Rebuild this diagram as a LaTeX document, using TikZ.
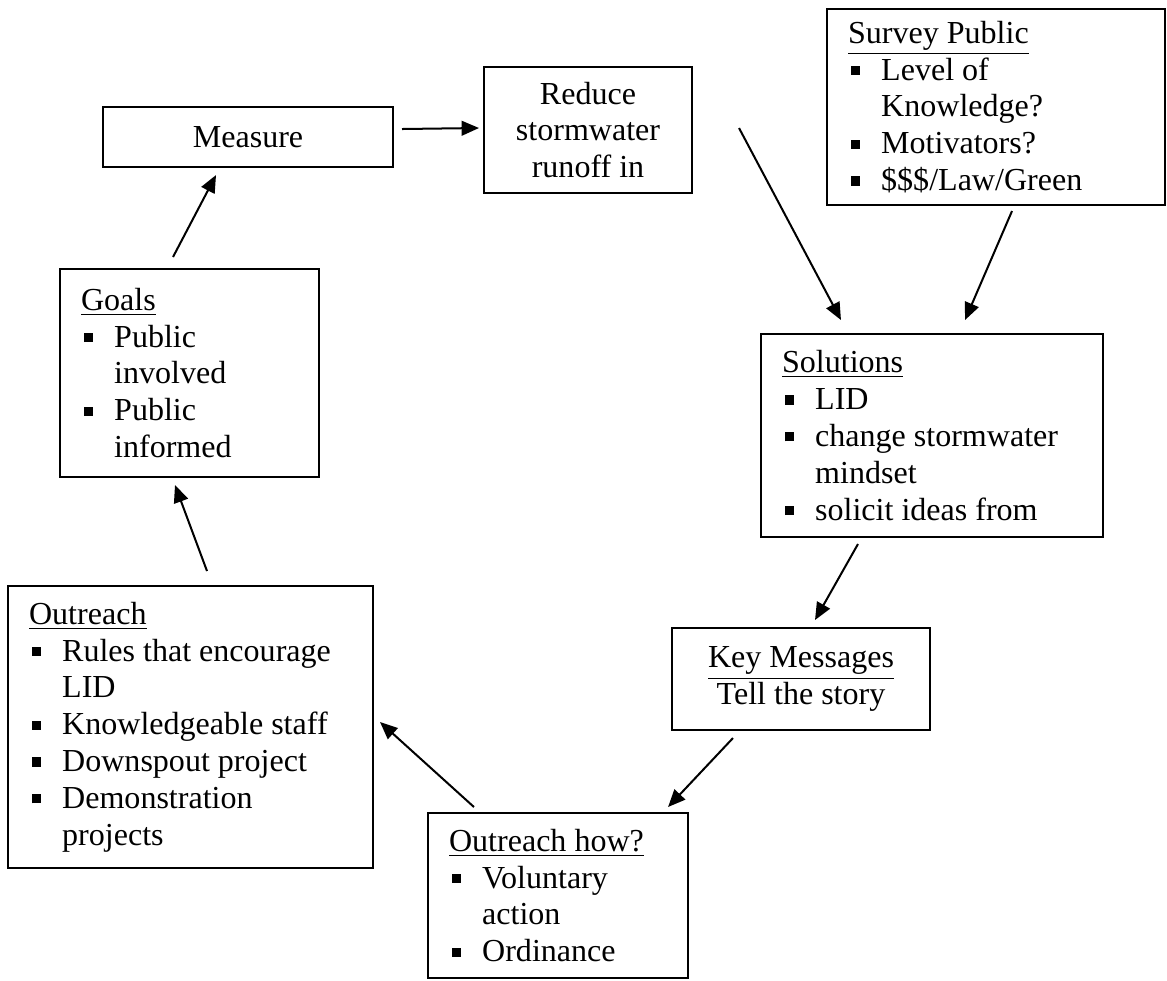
\documentclass[tikz,border=0pt]{standalone}
\usepackage{fontspec}
\setmainfont{Liberation Serif}
\usetikzlibrary{arrows.meta}

\newcommand{\sqbul}{\makebox[12.4pt][l]{\hspace{1.2pt}\rule[1.9pt]{3.4pt}{3.4pt}}}
\newcommand{\hang}{\hspace*{12.4pt}}

\begin{document}
\begin{tikzpicture}[
  x=0.3745pt, y=-0.3745pt,
  font=\fontsize{12}{13.8}\selectfont,
  box/.style={draw, line width=0.75pt, inner xsep=7.9pt, inner ysep=0pt},
  list/.style={box, align=flush left},
  arrow/.style={-{Triangle[length=6.5pt,width=5.5pt]}, line width=0.75pt}
]
\useasboundingbox (0,0) rectangle (1167,980);

\node[box, align=center, minimum width=108.6pt, minimum height=22.5pt] (measure) at (248,137) {Measure};
\node[box, align=center, minimum width=77.9pt, minimum height=47.2pt] (reduce) at (588,130) {Reduce\\stormwater\\runoff in};
\node[list, text width=110.8pt, minimum height=73.4pt] (survey) at (996,107)
  {\underline{Survey Public}\\ \sqbul Level of\\ \hang Knowledge?\\ \sqbul Motivators?\\ \sqbul \$\$\$/Law/Green};
\node[list, text width=81.2pt, minimum height=77.9pt] (goals) at (189.5,373)
  {\underline{Goals}\\ \sqbul Public\\ \hang involved\\ \sqbul Public\\ \hang informed};
\node[list, text width=112.3pt, minimum height=76pt] (solutions) at (932,435.5)
  {\underline{Solutions}\\ \sqbul LID\\ \sqbul change stormwater\\ \hang mindset\\ \sqbul solicit ideas from};
\node[box, align=center, minimum width=96.6pt, minimum height=38.2pt] (keymsg) at (801,679)
  {\underline{Key Messages}\\Tell the story};
\node[list, text width=81.6pt, minimum height=61.8pt] (how) at (558,895.5)
  {\underline{Outreach how?}\\ \sqbul Voluntary\\ \hang action\\ \sqbul Ordinance};
\node[list, text width=120.9pt, minimum height=105.6pt] (outreach) at (190.5,727)
  {\underline{Outreach}\\ \sqbul Rules that encourage\\ \hang LID\\ \sqbul Knowledgeable staff\\ \sqbul Downspout project\\ \sqbul Demonstration\\ \hang projects};

\draw[arrow] ([shift={(8,-8)}]measure.east) -- ([shift={(-4,-2)}]reduce.west);
\draw[arrow] ([shift={(46,-2)}]reduce.east) -- ([shift={(81,-13)}]solutions.north west);
\draw[arrow] ([shift={(16,5)}]survey.south) -- ([shift={(33,-13)}]solutions.north);
\draw[arrow] ([shift={(-74,6)}]solutions.south) -- ([shift={(14,-7)}]keymsg.north);
\draw[arrow] ([shift={(-68,7)}]keymsg.south) -- ([shift={(-21,-5)}]how.north east);
\draw[arrow] ([shift={(47,-5)}]how.north west) -- ([shift={(6,-5)}]outreach.east);
\draw[arrow] ([shift={(16.5,-14)}]outreach.north) -- ([shift={(-14.5,7)}]goals.south);
\draw[arrow] ([shift={(-16.5,-11)}]goals.north) -- ([shift={(-32,7)}]measure.south);
\end{tikzpicture}
\end{document}
